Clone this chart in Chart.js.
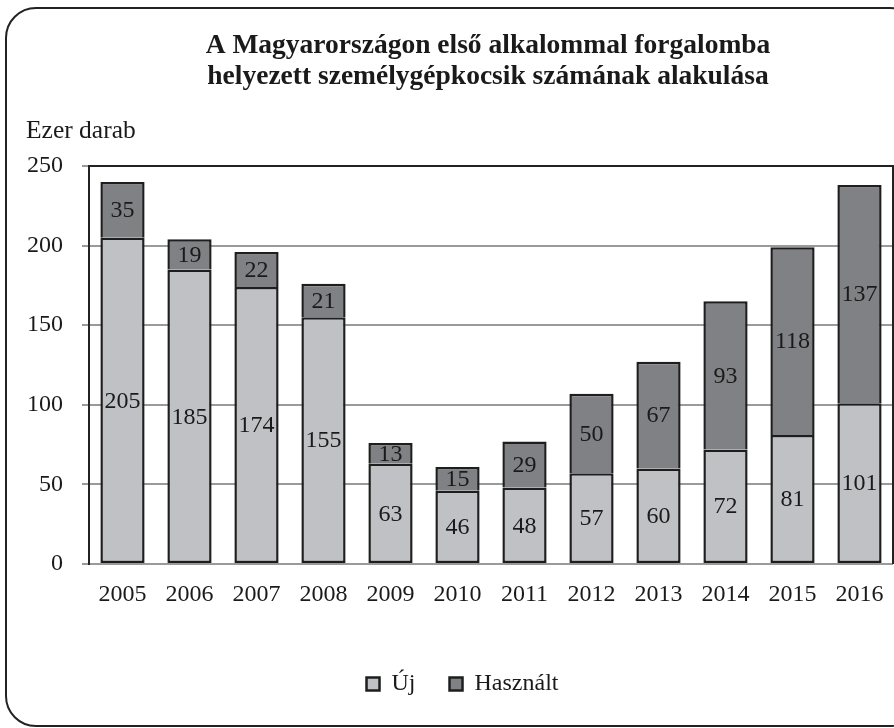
<!DOCTYPE html>
<html>
<head>
<meta charset="utf-8">
<script src="https://cdn.jsdelivr.net/npm/chart.js@4"></script>
<style>
html,body{margin:0;padding:0;background:#fff;}
#wrap{width:894px;height:728px;}
</style>
</head>
<body>
<div id="wrap"><canvas id="c" width="894" height="728"></canvas></div>
<script>
const titleLines = ["A Magyarországon első alkalommal forgalomba", "helyezett személygépkocsik számának alakulása"];
const unitLabel = "Ezer darab";
const years = ["2005","2006","2007","2008","2009","2010","2011","2012","2013","2014","2015","2016"];
const newCars = [205,185,174,155,63,46,48,57,60,72,81,101];
const usedCars = [35,19,22,21,13,15,29,50,67,93,118,137];
const seriesNames = ["Új","Használt"];
const yTicks = [0,50,100,150,200,250];

const FONT = "'Liberation Serif', 'Times New Roman', serif";
const TXT = "#1a1a1a";

const framePlugin = {
  id: 'frame',
  afterLayout(chart) {
    if (chart.legend) { chart.legend.left += 32; }
  },
  beforeDraw(chart) {
    const ctx = chart.ctx;
    ctx.save();
    ctx.fillStyle = '#fff';
    ctx.fillRect(0,0,chart.width,chart.height);
    ctx.strokeStyle = '#222';
    ctx.lineWidth = 2;
    const x0 = 6, y0 = 8, x1 = 920, y1 = 726, r = 30;
    ctx.beginPath();
    ctx.moveTo(x0 + r, y0);
    ctx.lineTo(x1 - r, y0);
    ctx.arcTo(x1, y0, x1, y0 + r, r);
    ctx.lineTo(x1, y1 - r);
    ctx.arcTo(x1, y1, x1 - r, y1, r);
    ctx.lineTo(x0 + r, y1);
    ctx.arcTo(x0, y1, x0, y1 - r, r);
    ctx.lineTo(x0, y0 + r);
    ctx.arcTo(x0, y0, x0 + r, y0, r);
    ctx.closePath();
    ctx.stroke();
    ctx.fillStyle = TXT;
    ctx.textAlign = 'center';
    ctx.textBaseline = 'middle';
    ctx.font = "bold 27.5px " + FONT;
    ctx.fillText(titleLines[0], 488, 46);
    ctx.fillText(titleLines[1], 488, 77);
    ctx.font = "25.5px " + FONT;
    ctx.textAlign = 'left';
    ctx.fillText(unitLabel, 26, 131);
    ctx.restore();
  },
  afterDatasetsDraw(chart) {
    const ctx = chart.ctx;
    const a = chart.chartArea;
    ctx.save();
    ctx.strokeStyle = '#222';
    ctx.lineWidth = 2;
    ctx.beginPath();
    ctx.moveTo(a.left, a.bottom);
    ctx.lineTo(a.left, a.top);
    ctx.lineTo(a.right, a.top);
    ctx.lineTo(a.right, a.bottom);
    ctx.stroke();
    ctx.fillStyle = TXT;
    ctx.font = "24px " + FONT;
    ctx.textAlign = 'center';
    ctx.textBaseline = 'middle';
    chart.data.datasets.forEach((ds, di) => {
      const meta = chart.getDatasetMeta(di);
      meta.data.forEach((el, i) => {
        const p = el.getProps(['x','y','base'], true);
        ctx.fillText(String(ds.data[i]), p.x, (p.y + p.base) / 2 + 1);
      });
    });
    ctx.restore();
  }
};

new Chart(document.getElementById('c'), {
  type: 'bar',
  data: {
    labels: years,
    datasets: [
      { label: seriesNames[0], data: newCars, backgroundColor: '#c0c1c5', borderColor: '#1e1e1e', borderWidth: 2.5, borderSkipped: false },
      { label: seriesNames[1], data: usedCars, backgroundColor: '#808185', borderColor: '#1e1e1e', borderWidth: 2.5, borderSkipped: 'bottom' }
    ]
  },
  options: {
    responsive: false,
    animation: false,
    events: [],
    layout: { padding: { top: 166, left: 0, right: 1, bottom: 22 } },
    datasets: { bar: { categoryPercentage: 1.0, barPercentage: 0.66 } },
    scales: {
      x: {
        stacked: true,
        grid: { display: false },
        border: { display: false },
        ticks: { color: TXT, font: { family: FONT, size: 24 }, padding: 8, maxRotation: 0 },
        afterFit(s) { s.height = 74; }
      },
      y: {
        stacked: true,
        min: 0, max: 250,
        afterBuildTicks(s) { s.ticks = yTicks.map(v => ({ value: v })); },
        grid: { color: '#9a9a9a', lineWidth: 2, tickLength: 7, drawTicks: true },
        border: { display: true, color: '#222', width: 2 },
        ticks: { color: TXT, font: { family: FONT, size: 24 }, padding: 19 },
        afterFit(s) { s.width = 89; }
      }
    },
    plugins: {
      title: { display: false },
      tooltip: { enabled: false },
      legend: {
        display: true,
        position: 'bottom',
        labels: {
          color: TXT,
          font: { family: FONT, size: 24 },
          boxWidth: 13, boxHeight: 13,
          padding: 34,
          useBorderRadius: false
        }
      }
    }
  },
  plugins: [framePlugin]
});
</script>
</body>
</html>
